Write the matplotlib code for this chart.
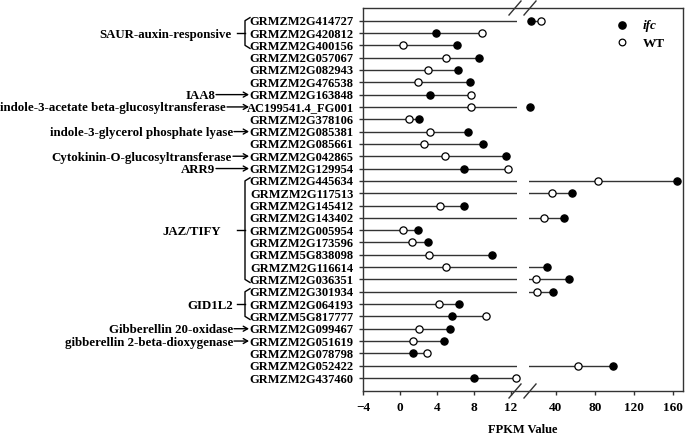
import matplotlib
matplotlib.use('Agg')
import matplotlib.pyplot as plt
from matplotlib.lines import Line2D
from matplotlib.transforms import blended_transform_factory

plt.rcParams['font.family'] = ['Liberation Serif', 'DejaVu Serif']
plt.rcParams['font.weight'] = 'bold'
plt.rcParams['font.size'] = 9

# gene ids, top to bottom
genes = ['GRMZM2G414727', 'GRMZM2G420812', 'GRMZM2G400156', 'GRMZM2G057067',
         'GRMZM2G082943', 'GRMZM2G476538', 'GRMZM2G163848', 'AC199541.4_FG001',
         'GRMZM2G378106', 'GRMZM2G085381', 'GRMZM2G085661', 'GRMZM2G042865',
         'GRMZM2G129954', 'GRMZM2G445634', 'GRMZM2G117513', 'GRMZM2G145412',
         'GRMZM2G143402', 'GRMZM2G005954', 'GRMZM2G173596', 'GRMZM5G838098',
         'GRMZM2G116614', 'GRMZM2G036351', 'GRMZM2G301934', 'GRMZM2G064193',
         'GRMZM5G817777', 'GRMZM2G099467', 'GRMZM2G051619', 'GRMZM2G078798',
         'GRMZM2G052422', 'GRMZM2G437460']
ifc = [14.4, 3.9, 6.2, 8.6, 6.3, 7.6, 3.3, 13.3, 2.05, 7.4,
       9.0, 11.5, 7.0, 163.8, 56.7, 7.0, 48.2, 2.0, 3.1, 10.0,
       30.5, 53.3, 37.2, 6.4, 5.7, 5.4, 4.75, 1.4, 98.8, 8.0]
wt = [24.6, 8.9, 0.3, 5.0, 3.1, 2.0, 7.75, 7.75, 1.0, 3.25,
      2.6, 4.9, 11.7, 83.4, 36.2, 4.4, 27.7, 0.3, 1.26, 3.2,
      5.0, 19.5, 20.2, 4.25, 9.3, 2.05, 1.45, 2.9, 62.2, 12.6]

# annotations on the left
arrow_labels = ['IAA8', 'indole-3-acetate beta-glucosyltransferase',
                'indole-3-glycerol phosphate lyase',
                'Cytokinin-O-glucosyltransferase', 'ARR9',
                'Gibberellin 20-oxidase', 'gibberellin 2-beta-dioxygenase']
arrow_rows = [6, 7, 9, 11, 12, 25, 26]
bracket_labels = ['SAUR-auxin-responsive', 'JAZ/TIFY', 'GID1L2']
bracket_rows = [(0, 2), (13, 21), (22, 24)]

# layout (pixels)
W, H = 685., 437.
arrow_text_end = [215, 226, 233, 232, 215, 233, 233]
bracket_text_end = [232, 221, 233]
x1max = 12.7
x2min = 12.3

fig = plt.figure(figsize=(6.85, 4.37), dpi=100)
bot = 1 - 391/H
hgt = 383/H
frame = fig.add_axes([363/W, bot, 320/W, hgt])
frame.set_xticks([])
frame.set_yticks([])
for s in frame.spines.values():
    s.set_linewidth(1.0)
    s.set_color('#333333')
ax1 = fig.add_axes([363/W, bot, 154/W, hgt], facecolor='none')
ax2 = fig.add_axes([529/W, bot, 154/W, hgt], facecolor='none')

n = len(genes)
for ax in (ax1, ax2):
    ax.set_ylim(n - 1 + 1.055, -1.03)
    for s in ax.spines.values():
        s.set_visible(False)
    ax.tick_params(axis='x', direction='out', length=3, width=1, pad=5,
                   labelsize=9.5, color='#333333')
ax1.set_xlim(-4, x1max)
ax2.set_xlim(x2min, 170.3)
ax1.set_xticks([-4, 0, 4, 8, 12])
ax2.set_xticks([40, 80, 120, 160])
ax1.set_yticks(range(n))
ax1.set_yticklabels(genes, fontsize=9)
ax1.tick_params(axis='y', direction='out', length=3, width=1, pad=3.7,
                color='#333333')
ax2.set_yticks([])

lc = '#333333'
for i in range(n):
    m = max(ifc[i], wt[i])
    ax1.plot([-4, min(m, x1max)], [i, i], color=lc, lw=1.0, zorder=1)
    if m > x1max:
        ax2.plot([x2min, m], [i, i], color=lc, lw=1.0, zorder=1)
    for v, fc in ((wt[i], 'white'), (ifc[i], 'black')):
        ax = ax1 if v <= x1max else ax2
        ax.plot(v, i, 'o', ms=5.2, mfc=fc, mec='black', mew=0.9,
                zorder=3, clip_on=False)

# legend
ax2.plot(0.604, 0.956, 'o', ms=5.2, mfc='black', mec='black',
         transform=ax2.transAxes, clip_on=False)
ax2.plot(0.604, 0.911, 'o', ms=4.8, mfc='white', mec='black', mew=0.9,
         transform=ax2.transAxes, clip_on=False)
ax2.text(0.74, 0.956, 'ifc', style='italic', fontsize=9.5,
         va='center_baseline', transform=ax2.transAxes)
ax2.text(0.74, 0.911, 'WT', fontsize=9.5, va='center_baseline',
         transform=ax2.transAxes)

fig.text(523/W, 1 - 430/H, 'FPKM Value', ha='center', va='center', fontsize=9)

# axis break marks
for yb in (8, 391):
    for xc in (515, 530):
        fig.add_artist(Line2D([(xc - 6)/W, (xc + 6)/W],
                              [1 - (yb + 7)/H, 1 - (yb - 7)/H],
                              color='#333333', lw=1.0))

# left-side group labels
tr = blended_transform_factory(fig.transFigure, ax1.transData)
for lab, r, xe in zip(arrow_labels, arrow_rows, arrow_text_end):
    fig.text(xe/W, r, lab, ha='right', va='center_baseline', transform=tr,
             fontsize=9.3)
    ax1.annotate('', xy=(249/W, r), xytext=((xe + 1)/W, r), xycoords=tr,
                 textcoords=tr, annotation_clip=False,
                 arrowprops=dict(arrowstyle='->,head_length=0.35,head_width=0.2',
                                 lw=1.0, color='black', shrinkA=0, shrinkB=0))
for lab, (r0, r1), xe in zip(bracket_labels, bracket_rows, bracket_text_end):
    ym = (r0 + r1) / 2.
    fig.add_artist(Line2D([250/W, 245/W, 245/W, 250/W],
                          [r0 - 0.25, r0, r1, r1 + 0.25],
                          transform=tr, color='black', lw=1.0))
    fig.add_artist(Line2D([237/W, 245/W], [ym, ym], transform=tr,
                          color='black', lw=1.0))
    fig.text(xe/W, ym, lab, ha='right', va='center_baseline', transform=tr,
             fontsize=9.3)

plt.savefig('out.png', dpi=100)
